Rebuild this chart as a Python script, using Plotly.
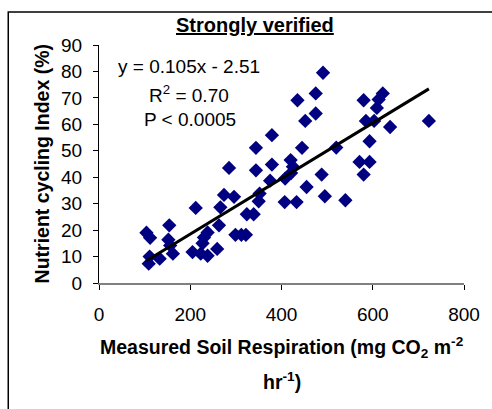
import plotly.graph_objects as go

# Measured soil respiration (mg CO2 m-2 hr-1)
resp = [491, 435, 475, 475, 452, 445, 580, 622, 613, 609, 585, 603, 638, 723, 593, 520,
        420, 425, 408, 421, 488, 571, 593, 580, 455, 495, 540, 407, 433,
        379, 344, 285, 344, 379, 375, 274, 296, 352, 350, 212, 266, 324, 339, 263, 238,
        230, 299, 312, 322, 227, 205, 223, 238, 259,
        104, 112, 154, 152, 156, 162, 111, 133, 109]
# Nutrient cycling index (%)
nci = [79.5, 69.1, 71.7, 64.1, 61.3, 51.1, 69.1, 71.7, 69.4, 66.2, 61.3, 61.3, 59.0, 61.3, 53.6, 51.2,
       46.5, 44.0, 39.5, 41.6, 41.0, 45.8, 45.8, 41.0, 36.3, 32.8, 31.3, 30.6, 30.6,
       55.9, 51.1, 43.5, 42.6, 44.8, 38.7, 33.3, 32.6, 33.8, 30.9, 28.4, 28.6, 26.0, 26.0, 21.8, 19.1,
       17.2, 18.2, 18.2, 18.2, 15.0, 11.7, 11.1, 10.3, 12.9,
       19.0, 17.1, 21.8, 16.4, 14.2, 11.1, 10.0, 9.2, 7.3]

slope = 0.105
intercept = -2.51
x_ticks = [0, 200, 400, 600, 800]
y_ticks = [0, 10, 20, 30, 40, 50, 60, 70, 80, 90]

FONT = "Arial, Liberation Sans, sans-serif"

fit_x = [min(resp), max(resp)]
fit_y = [slope * v + intercept for v in fit_x]

fig = go.Figure()
fig.add_trace(go.Scatter(x=resp, y=nci, mode="markers",
                         marker=dict(symbol="diamond", size=11, color="#000080",
                                     line=dict(width=0)),
                         showlegend=False))
fig.add_trace(go.Scatter(x=fit_x, y=fit_y, mode="lines",
                         line=dict(color="black", width=3), showlegend=False))

fig.update_layout(
    width=492, height=409,
    margin=dict(l=99, r=25, t=45, b=126),
    paper_bgcolor="white", plot_bgcolor="white",
    font=dict(family=FONT, size=19, color="black"),
    xaxis=dict(range=[0, 800], tickvals=x_ticks, showgrid=False, zeroline=False,
               showline=True, linecolor="#808080", linewidth=1.5,
               ticks="outside", ticklen=5, tickcolor="black", tickwidth=1,
               ticklabelstandoff=8, tickfont=dict(size=19)),
    yaxis=dict(range=[0, 90], tickvals=y_ticks, showgrid=False, zeroline=False,
               showline=True, linecolor="black", linewidth=1,
               ticks="outside", ticklen=5, tickcolor="black", tickwidth=1,
               ticklabelstandoff=7, tickfont=dict(size=19)),
    shapes=[dict(type="rect", xref="paper", yref="paper",
                 x0=-0.2486, x1=1.08, y0=-0.56, y1=1.1387,
                 line=dict(color="black", width=1.5), fillcolor="rgba(0,0,0,0)")],
    annotations=[
        dict(text="<b><u>Strongly verified</u></b>", xref="paper", yref="paper",
             x=0.4266, y=1.084, showarrow=False, font=dict(size=20),
             xanchor="center", yanchor="middle"),
        dict(text="<b>Nutrient cycling Index (%)</b>", xref="paper", yref="paper",
             x=-0.155, y=0.5, textangle=-90, showarrow=False, font=dict(size=19.5),
             xanchor="center", yanchor="middle"),
        dict(text="<b>Measured Soil Respiration (mg CO<sub>2</sub> m<sup>-2</sup></b>",
             xref="paper", yref="paper", x=0.5, y=-0.273, showarrow=False,
             font=dict(size=19.5), xanchor="center", yanchor="middle"),
        dict(text="<b>hr<sup>-1</sup>)</b>", xref="paper", yref="paper",
             x=0.5, y=-0.412, showarrow=False, font=dict(size=19.5),
             xanchor="center", yanchor="middle"),
        dict(text="y = 0.105x - 2.51", xref="paper", yref="paper",
             x=0.247, y=0.9076, showarrow=False, font=dict(size=19),
             xanchor="center", yanchor="middle"),
        dict(text="R<sup>2</sup> = 0.70", xref="paper", yref="paper",
             x=0.247, y=0.794, showarrow=False, font=dict(size=19),
             xanchor="center", yanchor="middle"),
        dict(text="P &lt; 0.0005", xref="paper", yref="paper",
             x=0.25, y=0.685, showarrow=False, font=dict(size=19),
             xanchor="center", yanchor="middle"),
    ],
)

fig.write_html("out.html")
